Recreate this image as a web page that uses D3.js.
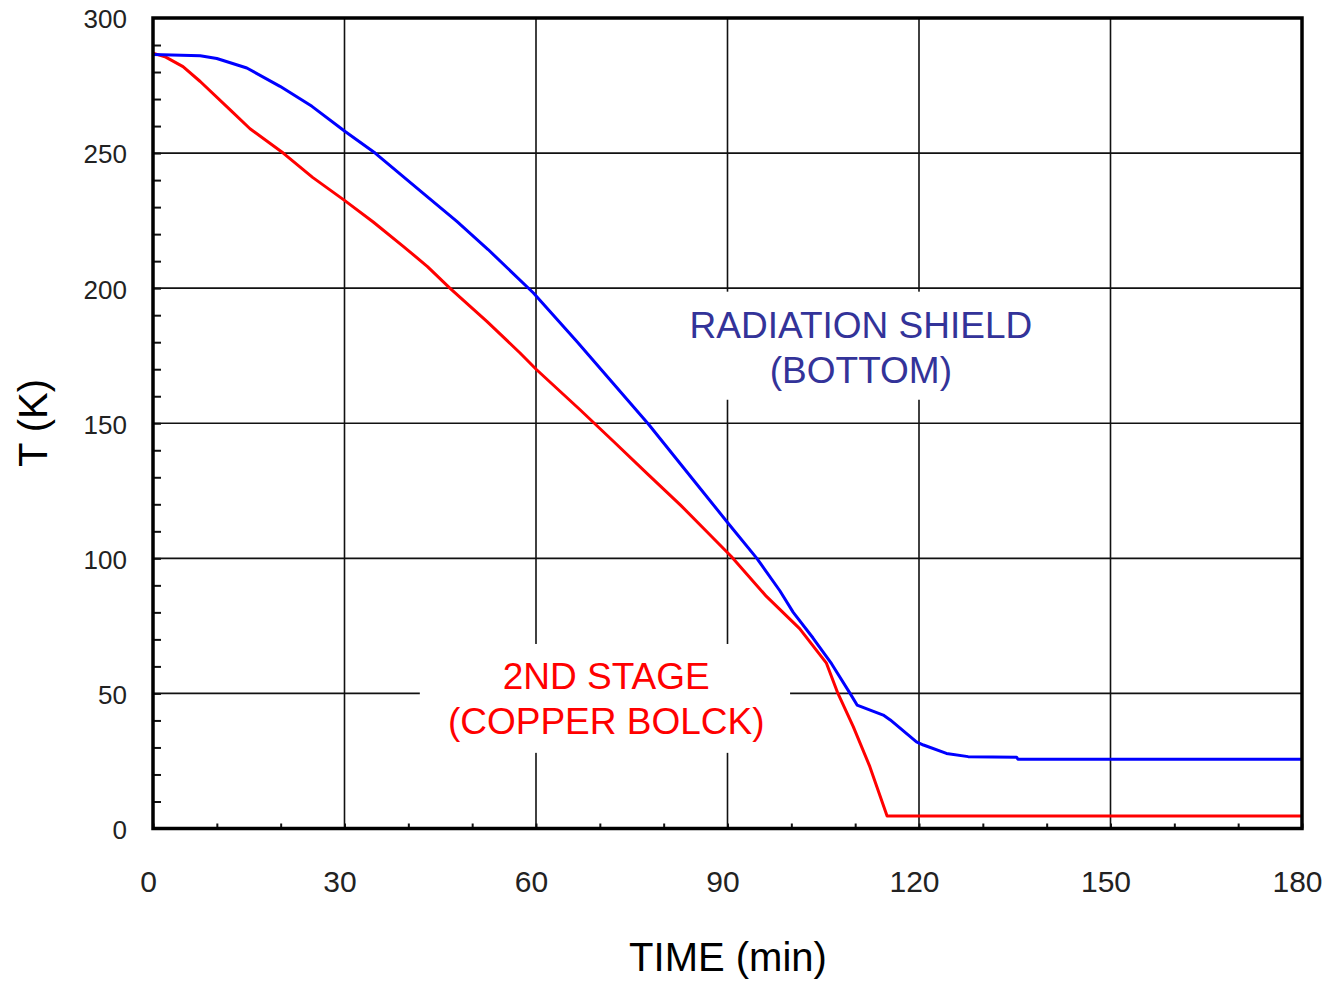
<!DOCTYPE html>
<html>
<head>
<meta charset="utf-8">
<script src="https://cdn.jsdelivr.net/npm/d3@7"></script>
<style>
    body { margin: 0; background: #ffffff; }
    svg text { font-family: "Liberation Sans", Arial, sans-serif; }
</style>
</head>
<body>
<div id="chartDiv"></div>
<script>
// cool-down curves, time in minutes, temperature in K
const shieldTime = [0, 7.4, 10, 14.7, 19.9, 24.9, 30.1, 34.8, 42.9, 47.6, 52.5, 59.6, 66.4, 72, 77.6, 85,
    90.1, 94.6, 98.2, 100.3, 103.4, 106.3, 109.2, 110.3, 114.4, 115.5, 119.6, 120.7, 124.3, 127.7, 135.3, 135.5, 180];
const shieldTemp = [286.5, 286, 285, 281.5, 274.7, 267.3, 258, 250, 234, 224.7, 214.3, 198.2, 180.3, 165, 149.7, 128,
    113, 100, 88, 80, 70.5, 61, 50, 45.7, 42, 40.2, 32.1, 30.9, 27.8, 26.6, 26.4, 25.6, 25.6];

const stageTime = [0, 2, 4.7, 7.4, 12.3, 15.2, 20.4, 25, 30, 34.5, 39.2, 43, 46.5, 52.3, 57.5, 60.1, 66.9, 72.4,
    77.5, 82.6, 86.5, 90.6, 96.1, 101.3, 105.5, 107.3, 109.7, 112.3, 115, 180];
const stageTemp = [287, 285.5, 282, 276.5, 265.5, 259, 250, 241, 232.5, 224.5, 215.5, 208, 200, 187.7, 176, 169.8, 155, 142.7,
    131.2, 119.8, 110.5, 100.7, 85.9, 74, 61.2, 50, 37.7, 22.9, 4.6, 4.6];

const xTicks = [0, 30, 60, 90, 120, 150, 180];
const yTicks = [0, 50, 100, 150, 200, 250, 300];
const xMinor = d3.range(0, 181, 10);
const yMinor = d3.range(10, 300, 10);

const shieldLabel = ["RADIATION SHIELD", "(BOTTOM)"];
const stageLabel = ["2ND STAGE", "(COPPER BOLCK)"];

const W = 1328, H = 982;
let margin = {top: 18, right: 26, bottom: 153.5, left: 153};
let width = W - margin.left - margin.right;
let height = H - margin.top - margin.bottom;

let svg = d3.select("#chartDiv").append("svg")
    .attr("width", W)
    .attr("height", H);

const g = svg.append("g")
    .attr("transform", "translate(" + margin.left + "," + margin.top + ")");

let x = d3.scaleLinear().domain([0, 180]).range([0, width]);
let y = d3.scaleLinear().domain([0, 300]).range([height, 0]);

// grid
g.append("g")
    .selectAll("line.vgrid")
    .data(xTicks.slice(1, -1))
    .enter().append("line")
    .attr("x1", d => x(d)).attr("x2", d => x(d))
    .attr("y1", 0).attr("y2", height)
    .attr("stroke", "#111").attr("stroke-width", 1.6);

g.append("g")
    .selectAll("line.hgrid")
    .data(yTicks.slice(1, -1))
    .enter().append("line")
    .attr("x1", 0).attr("x2", width)
    .attr("y1", d => y(d)).attr("y2", d => y(d))
    .attr("stroke", "#111").attr("stroke-width", 1.6);

// white boxes behind the labels
function labelBox(t0, t1, k0, k1) {
    g.append("rect")
        .attr("x", x(t0)).attr("y", y(k0))
        .attr("width", x(t1) - x(t0)).attr("height", y(k1) - y(k0))
        .attr("fill", "#ffffff");
}
labelBox(79.4, 142.1, 198.7, 158.7);
labelBox(41.8, 99.8, 68.3, 28);

// curves
function drawCurve(ts, ks, color) {
    let pts = ts.map((t, i) => [t, ks[i]]);
    g.append("path")
        .datum(pts)
        .attr("fill", "none")
        .attr("stroke", color)
        .attr("stroke-width", 3)
        .attr("stroke-linejoin", "round")
        .attr("d", d3.line().x(d => x(d[0])).y(d => y(d[1])));
}
drawCurve(stageTime, stageTemp, "#ff0000");
drawCurve(shieldTime, shieldTemp, "#0000ff");

// labels in the plot
function label(lines, t, k, color) {
    g.append("text")
        .attr("text-anchor", "middle")
        .attr("font-size", "37px")
        .attr("fill", color)
        .selectAll("tspan")
        .data(lines)
        .enter().append("tspan")
        .attr("x", x(t))
        .attr("y", (d, i) => y(k) + i * 45)
        .text(d => d);
}
label(shieldLabel, 110.9, 181.7, "#333399");
label(stageLabel, 71, 51.7, "#ff0000");

// minor ticks
g.append("g")
    .call(d3.axisRight(y).tickValues(yMinor).tickSize(8).tickFormat(""))
    .call(a => a.select(".domain").remove())
    .selectAll("line").attr("stroke", "#111").attr("stroke-width", 2);

g.append("g")
    .attr("transform", "translate(0," + height + ")")
    .call(d3.axisTop(x).tickValues(xMinor).tickSize(5).tickFormat(""))
    .call(a => a.select(".domain").remove())
    .selectAll("line").attr("stroke", "#111").attr("stroke-width", 2);

// frame
g.append("rect")
    .attr("x", 0).attr("y", 0)
    .attr("width", width).attr("height", height)
    .attr("fill", "none")
    .attr("stroke", "#000")
    .attr("stroke-width", 3.5);

// tick labels
g.append("g")
    .call(d3.axisLeft(y).tickValues(yTicks).tickSize(0).tickPadding(26))
    .call(a => a.select(".domain").remove())
    .selectAll("text")
    .attr("font-family", "Liberation Sans, Arial, sans-serif")
    .attr("font-size", "26px")
    .attr("fill", "#222")
    .attr("dy", "0.38em");

g.append("g")
    .attr("transform", "translate(0," + height + ")")
    .call(d3.axisBottom(x).tickValues(xTicks).tickSize(0).tickPadding(42))
    .call(a => a.select(".domain").remove())
    .selectAll("text")
    .attr("font-family", "Liberation Sans, Arial, sans-serif")
    .attr("font-size", "30px")
    .attr("fill", "#222")
    .attr("dx", -5);

// axis titles
svg.append("text")
    .attr("x", 728)
    .attr("y", 971)
    .attr("text-anchor", "middle")
    .attr("font-size", "40px")
    .attr("fill", "#000")
    .text("TIME (min)");

svg.append("text")
    .attr("transform", "translate(47,423)rotate(-90)")
    .attr("text-anchor", "middle")
    .attr("font-size", "40px")
    .attr("fill", "#000")
    .text("T (K)");
</script>
</body>
</html>
